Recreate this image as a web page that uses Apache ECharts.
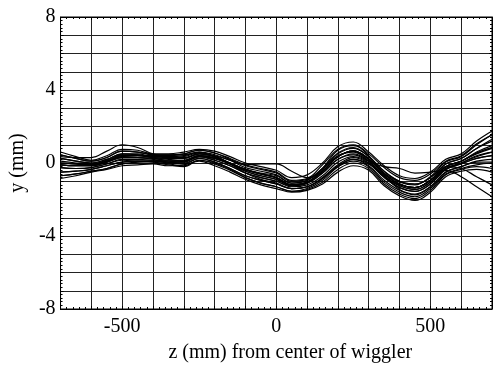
<!DOCTYPE html>
<html>
<head>
<meta charset="utf-8">
<script src="https://cdn.jsdelivr.net/npm/echarts@6/dist/echarts.min.js"></script>
<style>
  html, body { margin: 0; padding: 0; background: #fff; }
  #chart { width: 495px; height: 368px; }
</style>
</head>
<body>
<div id="chart"></div>
<script>
// z positions (mm) from center of wiggler
const zPos = [-700,-650,-600,-550,-500,-450,-400,-350,-300,-250,-200,-150,-100,-50,0,50,100,150,200,250,300,350,400,450,500,550,600,650,700];

// measured trajectories y (mm), one array per run
const run01 = [-0.85,-0.7,-0.5,-0.35,-0.15,-0.1,-0.05,-0.15,-0.1,0.1,-0.15,-0.5,-0.9,-1.2,-1.4,-1.6,-1.5,-1.15,-0.5,-0.15,-0.4,-1.25,-1.8,-2.05,-1.6,-0.75,-0.45,-0.35,-0.5];
const run02 = [-0.7,-0.6,-0.45,-0.3,-0.05,0.0,0.0,-0.1,-0.2,0.15,-0.05,-0.4,-0.8,-1.1,-1.3,-1.55,-1.45,-1.05,-0.35,0.0,-0.3,-1.15,-1.7,-1.95,-1.5,-0.65,-0.35,-0.2,-0.3];
const run03 = [-0.5,-0.45,-0.35,-0.15,0.05,0.1,0.1,0.0,-0.05,0.25,0.05,-0.3,-0.7,-0.95,-1.15,-1.4,-1.3,-0.85,-0.15,0.2,-0.15,-0.95,-1.5,-1.75,-1.3,-0.5,-0.2,0.05,0.05];
const run04 = [-0.25,-0.3,-0.25,-0.05,0.2,0.2,0.15,0.1,0.05,0.35,0.15,-0.15,-0.55,-0.8,-1.0,-1.3,-1.2,-0.7,0.05,0.35,0.0,-0.8,-1.35,-1.55,-1.15,-0.35,-0.05,0.25,0.4];
const run05 = [-0.1,-0.15,-0.15,0.05,0.3,0.3,0.25,0.15,0.15,0.4,0.25,-0.05,-0.45,-0.7,-0.9,-1.25,-1.1,-0.55,0.2,0.5,0.1,-0.7,-1.25,-1.45,-1.05,-0.3,0.0,0.4,0.6];
const run06 = [0.0,-0.05,-0.1,0.1,0.4,0.4,0.3,0.25,0.25,0.5,0.35,0.0,-0.35,-0.6,-0.8,-1.2,-1.05,-0.45,0.35,0.65,0.2,-0.6,-1.15,-1.35,-0.95,-0.2,0.1,0.55,0.85];
const run07 = [0.25,0.1,0.0,0.2,0.5,0.5,0.35,0.35,0.4,0.6,0.45,0.15,-0.25,-0.45,-0.65,-1.1,-0.95,-0.3,0.55,0.85,0.35,-0.45,-1.0,-1.15,-0.8,-0.05,0.25,0.8,1.2];
const run08 = [0.45,0.25,0.1,0.3,0.65,0.6,0.45,0.45,0.5,0.7,0.55,0.25,-0.1,-0.3,-0.5,-0.95,-0.85,-0.1,0.75,1.0,0.5,-0.25,-0.8,-0.95,-0.6,0.1,0.4,1.05,1.55];
const run09 = [0.6,0.35,0.15,0.4,0.75,0.7,0.5,0.5,0.6,0.75,0.65,0.35,0.0,-0.2,-0.4,-0.8,-0.65,0.0,0.9,1.15,0.6,-0.15,-0.7,-0.85,-0.5,0.2,0.5,1.2,1.75];
const run10 = [0.45,0.25,0.1,0.3,0.65,0.6,0.45,0.45,0.45,0.6,0.35,-0.05,-0.55,-0.9,-1.1,-1.4,-1.3,-0.85,-0.2,0.1,-0.2,-1.05,-1.6,-1.85,-1.4,-0.6,-0.3,-0.1,0.0];
const run11 = [-0.7,-0.6,-0.45,-0.3,-0.05,0.05,0.1,0.05,0.1,0.4,0.3,0.0,-0.35,-0.55,-0.7,-1.1,-0.95,-0.35,0.5,0.8,0.35,-0.45,-1.0,-1.15,-0.8,-0.05,0.25,0.8,1.3];
const run12 = [-0.1,-0.15,-0.15,0.05,0.35,0.4,0.4,0.4,0.5,0.7,0.55,0.2,-0.15,-0.35,-0.55,-1.0,-0.9,-0.3,0.4,0.6,0.1,-0.75,-1.35,-1.55,-1.15,-0.35,-0.05,0.25,0.4];
const run13 = [0.35,0.3,0.3,0.65,1.0,0.85,0.5,0.35,0.3,0.5,0.35,0.0,-0.35,-0.6,-0.8,-1.2,-1.05,-0.45,0.35,0.65,0.2,-0.6,-1.15,-1.35,-0.95,-0.2,0.1,0.6,0.95];
const run14 = [0.1,0.0,-0.05,0.15,0.45,0.45,0.35,0.3,0.35,0.55,0.4,0.15,-0.1,-0.05,-0.05,-0.45,-0.8,-0.45,0.35,0.65,0.2,-0.6,-1.15,-1.35,-0.95,-0.2,0.1,0.55,0.85];
const run15 = [-0.1,-0.15,-0.15,0.05,0.3,0.3,0.25,0.15,0.15,0.4,0.25,-0.05,-0.45,-0.7,-0.9,-1.2,-1.1,-0.55,0.2,0.45,0.1,-0.2,-0.3,-0.55,-0.5,-0.4,-0.75,-1.3,-1.85];
const run16 = [0.0,-0.05,-0.1,0.1,0.4,0.4,0.3,0.25,0.25,0.5,0.35,0.0,-0.35,-0.6,-0.8,-1.2,-1.05,-0.45,0.35,0.65,0.2,-0.6,-1.15,-1.35,-0.95,-0.2,-0.3,-0.75,-1.2];
const run17 = [-0.5,-0.45,-0.35,-0.15,0.05,0.1,0.1,0.05,0.05,0.35,0.25,-0.05,-0.4,-0.6,-0.8,-1.2,-1.05,-0.45,0.35,0.65,0.25,-0.55,-1.05,-1.2,-0.75,0.05,0.35,1.0,1.55];
const run18 = [0.25,0.1,0.0,0.2,0.5,0.45,0.3,0.2,0.1,0.35,0.15,-0.15,-0.55,-0.8,-1.0,-1.25,-1.1,-0.3,0.7,0.95,0.4,-0.65,-1.45,-1.7,-1.3,-0.5,-0.2,0.1,0.2];
const run19 = [-0.25,-0.3,-0.25,-0.05,0.15,0.1,0.05,-0.05,-0.15,0.15,0.0,-0.35,-0.8,-1.1,-1.3,-1.55,-1.4,-0.95,-0.2,0.2,-0.05,-0.75,-1.2,-1.35,-0.95,-0.2,0.1,0.5,0.8];
const run20 = [0.0,-0.05,-0.1,0.1,0.35,0.3,0.2,0.05,0.0,0.25,0.05,-0.3,-0.7,-0.95,-1.15,-1.4,-1.3,-0.8,-0.1,0.3,0.0,-0.7,-1.25,-1.45,-1.05,-0.3,0.0,0.35,0.6];

const runs = [run01, run02, run03, run04, run05, run06, run07, run08, run09, run10,
              run11, run12, run13, run14, run15, run16, run17, run18, run19, run20];

// labelled ticks
const xLabels = [-500, 0, 500];
const yLabels = [8, 4, 0, -4, -8];

const chart = echarts.init(document.getElementById('chart'), null, {renderer: 'canvas'});

const labelFont = {
  color: '#000',
  fontFamily: 'Liberation Serif',
  fontSize: 20,
};

// plain frame axes (top / right) carrying only the small dotted ticks
const frameTicks = {
  axisLine: {show: true, onZero: false, lineStyle: {color: '#000', width: 1}},
  axisTick: {show: true, inside: true, length: 3, lineStyle: {color: '#000'}},
  minorTick: {show: true, splitNumber: 5, length: 2, lineStyle: {color: '#000'}},
  axisLabel: {show: false},
  splitLine: {show: false},
};

const option = {
  animation: false,
  grid: {
    left: 59,
    right: 1,
    top: 17,
    bottom: 57,
    show: true,
    borderColor: '#000',
    borderWidth: 1,
  },
  xAxis: [{
    type: 'value',
    min: -700,
    max: 700,
    interval: 100,
    name: 'z (mm) from center of wiggler',
    nameLocation: 'middle',
    nameGap: 34,
    nameTextStyle: Object.assign({padding: [0, 0, 0, 28]}, labelFont),
    axisLine: {show: true, onZero: false, lineStyle: {color: '#000', width: 1}},
    axisTick: {show: true, inside: true, length: 3, lineStyle: {color: '#000'}},
    minorTick: {show: true, splitNumber: 5, length: 2, lineStyle: {color: '#000'}},
    axisLabel: Object.assign({
      margin: 8,
      formatter: v => (xLabels.includes(v) ? String(v) : ''),
    }, labelFont),
    splitLine: {show: true, lineStyle: {color: '#222', width: 1}},
  }, Object.assign({
    type: 'value', position: 'top', min: -700, max: 700, interval: 100,
  }, frameTicks)],
  yAxis: [{
    type: 'value',
    min: -8,
    max: 8,
    interval: 1,
    name: 'y (mm)',
    nameLocation: 'middle',
    nameGap: 32,
    nameTextStyle: labelFont,
    axisLine: {show: true, onZero: false, lineStyle: {color: '#000', width: 1}},
    axisTick: {show: true, inside: true, length: 3, lineStyle: {color: '#000'}},
    minorTick: {show: true, splitNumber: 5, length: 2, lineStyle: {color: '#000'}},
    axisLabel: Object.assign({
      margin: 5,
      formatter: v => (yLabels.includes(v) ? String(v) : ''),
    }, labelFont),
    splitLine: {show: true, lineStyle: {color: '#222', width: 1}},
  }, Object.assign({
    type: 'value', position: 'right', min: -8, max: 8, interval: 1,
  }, frameTicks)],
  series: runs.map((r, i) => ({
    name: 'run' + (i + 1),
    type: 'line',
    smooth: 0.4,
    symbol: 'none',
    data: zPos.map((z, k) => [z, r[k]]),
    lineStyle: {color: '#000', width: 1.2},
  })),
};

chart.setOption(option);
</script>
</body>
</html>
